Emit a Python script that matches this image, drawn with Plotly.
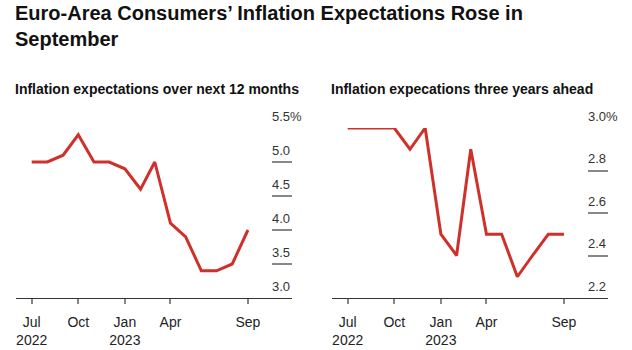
import plotly.graph_objects as go

months = ["2022-07-01", "2022-08-01", "2022-09-01", "2022-10-01", "2022-11-01",
          "2022-12-01", "2023-01-01", "2023-02-01", "2023-03-01", "2023-04-01",
          "2023-05-01", "2023-06-01", "2023-07-01", "2023-08-01", "2023-09-01"]
next_12_months = [5.0, 5.0, 5.1, 5.4, 5.0, 5.0, 4.9, 4.6, 5.0, 4.1, 3.9, 3.4, 3.4, 3.5, 4.0]
three_years = [3.0, 3.0, 3.0, 3.0, 2.9, 3.0, 2.5, 2.4, 2.9, 2.5, 2.5, 2.3, 2.4, 2.5, 2.5]

x_tickvals = ["2022-07-01", "2022-10-01", "2023-01-01", "2023-04-01", "2023-09-01"]
x_ticktext = ["Jul<br>2022", "Oct", "Jan<br>2023", "Apr", "Sep"]

y1_tickvals = [3.0, 3.5, 4.0, 4.5, 5.0, 5.5]
y1_ticktext = ["3.0", "3.5", "4.0", "4.5", "5.0", "5.5%"]
y2_tickvals = [2.2, 2.4, 2.6, 2.8, 3.0]
y2_ticktext = ["2.2", "2.4", "2.6", "2.8", "3.0%"]

title = "Euro-Area Consumers’ Inflation Expectations Rose in<br>September"
sub1 = "Inflation expectations over next 12 months"
sub2 = "Inflation expecations three years ahead"

RED = "#d0302b"
FONT = "Liberation Sans, Arial, sans-serif"
W, H = 632, 350
PT, PB = 128, 298          # plot area top / bottom in px
PH = PB - PT


def py(px):
    """convert a px offset from the top of the figure to paper y"""
    return (PB - px) / PH


fig = go.Figure()
fig.add_trace(go.Scatter(x=months, y=next_12_months, mode="lines",
                         line=dict(color=RED, width=3), xaxis="x", yaxis="y",
                         showlegend=False, hoverinfo="skip"))
fig.add_trace(go.Scatter(x=months, y=three_years, mode="lines",
                         line=dict(color=RED, width=3), xaxis="x2", yaxis="y2",
                         showlegend=False, hoverinfo="skip"))

xcommon = dict(type="date", range=["2022-05-31", "2023-11-27"],
               tickvals=x_tickvals, ticktext=x_ticktext,
               showgrid=False, zeroline=False, showline=True,
               linecolor="#333333", linewidth=1,
               ticks="outside", ticklen=5, tickwidth=1.5, tickcolor="#888888",
               ticklabelstandoff=6,
               tickfont=dict(family=FONT, size=14, color="#222222"))
ycommon = dict(side="right", showgrid=False, zeroline=False, showline=False,
               ticks="inside", ticklen=20, tickwidth=1.5, tickcolor="#888888",
               ticklabelstandoff=-21, ticklabelshift=-12,
               tickfont=dict(family=FONT, size=13, color="#333333"))

fig.update_layout(
    width=W, height=H,
    margin=dict(l=0, r=0, t=PT, b=H - PB),
    paper_bgcolor="white", plot_bgcolor="white",
    xaxis=dict(domain=[16 / W, 292 / W], anchor="y", **xcommon),
    xaxis2=dict(domain=[332 / W, 608 / W], anchor="y2", **xcommon),
    yaxis=dict(domain=[0, 1], anchor="x", range=[3.0, 5.5],
               tickvals=y1_tickvals, ticktext=y1_ticktext, **ycommon),
    yaxis2=dict(domain=[0, 1], anchor="x2", range=[2.2, 3.0],
                tickvals=y2_tickvals, ticktext=y2_ticktext, **ycommon),
    annotations=[
        dict(text=title, xref="paper", yref="paper", x=13 / W, xanchor="left",
             y=py(0), yanchor="top", showarrow=False, align="left",
             font=dict(family=FONT, size=20, color="#111111", weight="bold")),
        dict(text=sub1, xref="paper", yref="paper", x=13 / W, xanchor="left",
             y=py(79), yanchor="top", showarrow=False,
             font=dict(family=FONT, size=14, color="#111111", weight="bold")),
        dict(text=sub2, xref="paper", yref="paper", x=329 / W, xanchor="left",
             y=py(79), yanchor="top", showarrow=False,
             font=dict(family=FONT, size=14, color="#111111", weight="bold")),
    ],
)

fig.write_html("out.html")
